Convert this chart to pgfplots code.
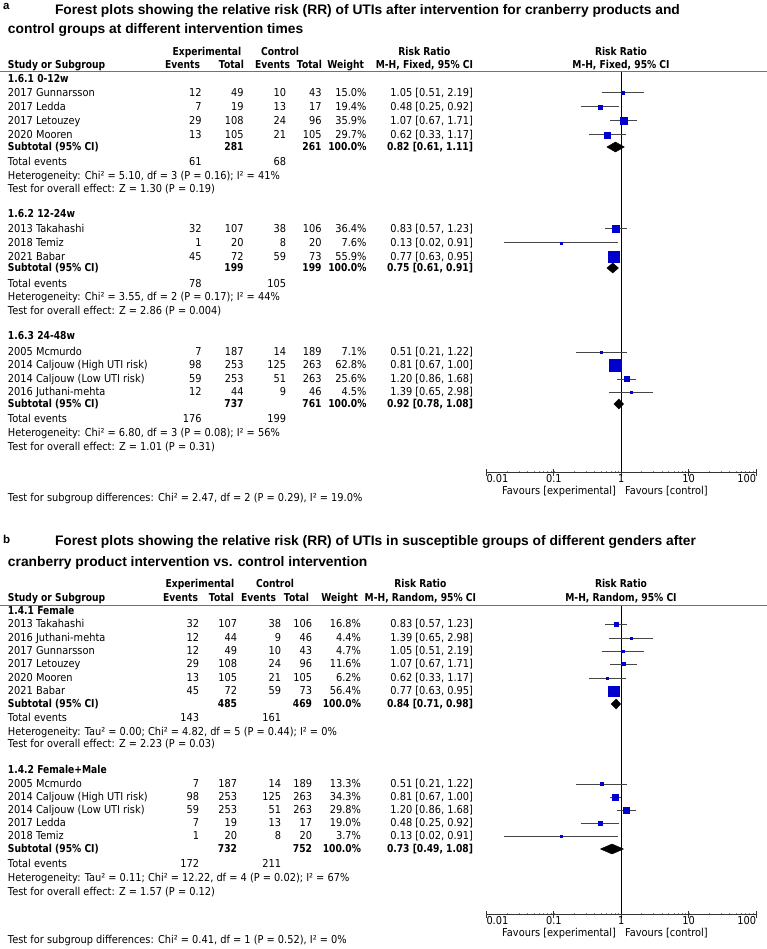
\documentclass[border=0pt]{standalone}
\usepackage{fontspec}
\setmainfont{DejaVu Sans}[FakeStretch=0.9, BoldFeatures={FakeStretch=0.84}]
\newfontfamily\titlefont{Liberation Sans}
\usepackage{pgfplots}
\pgfplotsset{compat=1.18}
\usepackage{pgfplotstable}
\definecolor{rrblue}{RGB}{0,0,205}
\definecolor{wgray}{RGB}{70,70,70}
\newcommand\tfont{\titlefont\bfseries\fontsize{13.8}{16}\selectfont}
\newcommand\lfont{\titlefont\bfseries\fontsize{11.5}{13}\selectfont}

% study rows: y = pixel row, rr = risk ratio, h = half side of square
\pgfplotstableread{
y   rr   h
93  1.05 1.6
107 0.48 2.0
121 1.07 3.5
135 0.62 2.9
229 0.83 3.5
243 0.13 1.1
257 0.77 5.3
352 0.51 1.1
365 0.81 5.8
379 1.20 2.6
392 1.39 1.1
}\studiesA
% 95% CI whiskers, one segment per study
\pgfplotstableread{
x y
0.51 93
2.19 93
nan nan
0.25 107
0.92 107
nan nan
0.67 121
1.71 121
nan nan
0.33 135
1.17 135
nan nan
0.57 229
1.23 229
nan nan
0.018 243
0.91 243
nan nan
0.63 257
0.95 257
nan nan
0.21 352
1.22 352
nan nan
0.67 365
1.00 365
nan nan
0.86 379
1.68 379
nan nan
0.65 392
2.98 392
}\ciA

\pgfplotstableread{
y   rr   h
624 0.83 1.9
638 1.39 1.1
651 1.05 1.1
664 1.07 1.5
678 0.62 1.1
691 0.77 5.2
784 0.51 1.5
797 0.81 3.2
810 1.20 2.9
823 0.48 2.0
836 0.13 0.9
}\studiesB
\pgfplotstableread{
x y
0.57 624
1.23 624
nan nan
0.65 638
2.98 638
nan nan
0.51 651
2.19 651
nan nan
0.67 664
1.71 664
nan nan
0.33 678
1.17 678
nan nan
0.63 691
0.95 691
nan nan
0.21 784
1.22 784
nan nan
0.67 797
1.00 797
nan nan
0.86 810
1.68 810
nan nan
0.25 823
0.92 823
nan nan
0.018 836
0.91 836
}\ciB

\newcommand\TL[3]{\node[anchor=base west] at (#1,#2) {#3};}
\newcommand\TR[3]{\node[anchor=base east] at (#1,#2) {#3};}
\newcommand\TC[3]{\node[anchor=base] at (#1,#2) {#3};}
% y, name, exp events, exp total, ctrl events, ctrl total, weight, CI
\newcommand\studyrow[8]{\TL{8}{#1}{#2}\TR{\cEE}{#1}{#3}\TR{\cET}{#1}{#4}%
  \TR{\cCE}{#1}{#5}\TR{\cCT}{#1}{#6}\TR{\cW}{#1}{#7}\TR{\cCI}{#1}{#8}}

\begin{document}
\fontsize{10.9}{12.5}\selectfont
\begin{tikzpicture}
\path[use as bounding box] (0pt,0pt) rectangle (767pt,-949pt);

% ---------- panel a ----------
\begin{axis}[at={(486.5pt,-472pt)}, anchor=south west,
  scale only axis, width=269.5pt, height=400pt,
  xmode=log, xmin=0.01, xmax=100, ymin=-472, ymax=-72,
  axis x line*=bottom, axis y line=none,
  xtick={0.01,0.1,1,10,100},
  xticklabels={\makebox[0pt][l]{0.01},0.1,1,10,\makebox[0pt][r]{100}},
  minor xtick={}, ytick=\empty,
  tick align=center, major tick length=7pt,
  major tick style={line width=0.8pt, black!80},
  x axis line style={line width=0.8pt, black!80},
  xticklabel style={inner sep=0pt, anchor=north, yshift=1pt},
  clip=false, unbounded coords=jump]
\addplot[black, line width=0.8pt] coordinates {(1,-72) (1,-472)};
\addplot[wgray, line width=1pt] table[x=x, y expr=-\thisrow{y}] {\ciA};
\addplot[scatter, only marks, mark=square*,
  scatter/use mapped color={draw=rrblue, fill=rrblue},
  visualization depends on={\thisrow{h} \as \hs},
  scatter/@pre marker code/.append style={/tikz/mark size=\hs}]
  table[x=rr, y expr=-\thisrow{y}] {\studiesA};
\addplot[fill=black, draw=black] coordinates {(0.61,-147) (0.82,-142) (1.11,-147) (0.82,-152) (0.61,-147)};
\addplot[fill=black, draw=black] coordinates {(0.61,-268) (0.75,-263) (0.91,-268) (0.75,-273) (0.61,-268)};
\addplot[fill=black, draw=black] coordinates {(0.78,-404) (0.92,-399) (1.08,-404) (0.92,-409) (0.78,-404)};
\end{axis}

% ---------- panel b ----------
\begin{axis}[at={(486.5pt,-914pt)}, anchor=south west,
  scale only axis, width=269.5pt, height=309pt,
  xmode=log, xmin=0.01, xmax=100, ymin=-914, ymax=-605,
  axis x line*=bottom, axis y line=none,
  xtick={0.01,0.1,1,10,100},
  xticklabels={\makebox[0pt][l]{0.01},0.1,1,10,\makebox[0pt][r]{100}},
  minor xtick={}, ytick=\empty,
  tick align=center, major tick length=7pt,
  major tick style={line width=0.8pt, black!80},
  x axis line style={line width=0.8pt, black!80},
  xticklabel style={inner sep=0pt, anchor=north, yshift=1pt},
  clip=false, unbounded coords=jump]
\addplot[black, line width=0.8pt] coordinates {(1,-605) (1,-914)};
\addplot[wgray, line width=1pt] table[x=x, y expr=-\thisrow{y}] {\ciB};
\addplot[scatter, only marks, mark=square*,
  scatter/use mapped color={draw=rrblue, fill=rrblue},
  visualization depends on={\thisrow{h} \as \hs},
  scatter/@pre marker code/.append style={/tikz/mark size=\hs}]
  table[x=rr, y expr=-\thisrow{y}] {\studiesB};
\addplot[fill=black, draw=black] coordinates {(0.71,-704) (0.84,-699) (0.98,-704) (0.84,-709) (0.71,-704)};
\addplot[fill=black, draw=black] coordinates {(0.49,-849) (0.73,-844) (1.08,-849) (0.73,-854) (0.49,-849)};
\end{axis}

\begin{scope}[x=1pt, y=-1pt, every node/.style={inner sep=0pt, outer sep=0pt}]
% ---------- panel a text ----------
\node[anchor=base west, font=\lfont] at (3,10) {a};
\node[anchor=base west, font=\tfont] at (55,15) {Forest plots showing the relative risk (RR) of UTIs after intervention for cranberry products and};
\node[anchor=base west, font=\tfont] at (8,33.5) {control groups at different intervention times};
\def\cEE{201.5}\def\cET{243.5}\def\cCE{286}\def\cCT{321.5}\def\cW{366.5}\def\cCI{473}
\TC{207}{55.5}{\textbf{Experimental}}
\TC{280}{55.5}{\textbf{Control}}
\TL{8}{68.5}{\textbf{Study or Subgroup}}
\TR{200}{68.5}{\textbf{Events}}\TR{244}{68.5}{\textbf{Total}}
\TR{290}{68.5}{\textbf{Events}}\TR{322}{68.5}{\textbf{Total}}
\TR{364}{68.5}{\textbf{Weight}}
\node (mha) [anchor=base east] at (473,68.5) {\textbf{M-H, Fixed, 95\% CI}};
\node[anchor=base] at ([yshift=13pt]mha.base) {\textbf{Risk Ratio}};
\TC{621}{55.5}{\textbf{Risk Ratio}}
\TC{621}{68.5}{\textbf{M-H, Fixed, 95\% CI}}
\draw[line width=1pt, black!55] (0,72) -- (767,72);

\TL{8}{82.5}{\textbf{1.6.1 0-12w}}
\studyrow{96.5}{2017 Gunnarsson}{12}{49}{10}{43}{15.0\%}{1.05 [0.51, 2.19]}
\studyrow{110.5}{2017 Ledda}{7}{19}{13}{17}{19.4\%}{0.48 [0.25, 0.92]}
\studyrow{124.5}{2017 Letouzey}{29}{108}{24}{96}{35.9\%}{1.07 [0.67, 1.71]}
\studyrow{138.5}{2020 Mooren}{13}{105}{21}{105}{29.7\%}{0.62 [0.33, 1.17]}
\studyrow{150.5}{\textbf{Subtotal (95\% CI)}}{}{\textbf{281}}{}{\textbf{261}}{\textbf{100.0\%}}{\textbf{0.82 [0.61, 1.11]}}
\TL{8}{165.5}{Total events}\TR{\cEE}{165.5}{61}\TR{\cCE}{165.5}{68}
\TL{8}{179.5}{Heterogeneity: Chi² = 5.10, df = 3 (P = 0.16); I² = 41\%}
\TL{8}{192.5}{Test for overall effect: Z = 1.30 (P = 0.19)}

\TL{8}{217.5}{\textbf{1.6.2 12-24w}}
\studyrow{232.5}{2013 Takahashi}{32}{107}{38}{106}{36.4\%}{0.83 [0.57, 1.23]}
\studyrow{246.5}{2018 Temiz}{1}{20}{8}{20}{7.6\%}{0.13 [0.02, 0.91]}
\studyrow{260.5}{2021 Babar}{45}{72}{59}{73}{55.9\%}{0.77 [0.63, 0.95]}
\studyrow{271.5}{\textbf{Subtotal (95\% CI)}}{}{\textbf{199}}{}{\textbf{199}}{\textbf{100.0\%}}{\textbf{0.75 [0.61, 0.91]}}
\TL{8}{287.5}{Total events}\TR{\cEE}{287.5}{78}\TR{\cCE}{287.5}{105}
\TL{8}{301}{Heterogeneity: Chi² = 3.55, df = 2 (P = 0.17); I² = 44\%}
\TL{8}{314.5}{Test for overall effect: Z = 2.86 (P = 0.004)}

\TL{8}{339}{\textbf{1.6.3 24-48w}}
\studyrow{355}{2005 Mcmurdo}{7}{187}{14}{189}{7.1\%}{0.51 [0.21, 1.22]}
\studyrow{368.5}{2014 Caljouw (High UTI risk)}{98}{253}{125}{263}{62.8\%}{0.81 [0.67, 1.00]}
\studyrow{382.5}{2014 Caljouw (Low UTI risk)}{59}{253}{51}{263}{25.6\%}{1.20 [0.86, 1.68]}
\studyrow{395.5}{2016 Juthani-mehta}{12}{44}{9}{46}{4.5\%}{1.39 [0.65, 2.98]}
\studyrow{407.5}{\textbf{Subtotal (95\% CI)}}{}{\textbf{737}}{}{\textbf{761}}{\textbf{100.0\%}}{\textbf{0.92 [0.78, 1.08]}}
\TL{8}{422.5}{Total events}\TR{\cEE}{422.5}{176}\TR{\cCE}{422.5}{199}
\TL{8}{436.5}{Heterogeneity: Chi² = 6.80, df = 3 (P = 0.08); I² = 56\%}
\TL{8}{450}{Test for overall effect: Z = 1.01 (P = 0.31)}

\TR{616}{494}{Favours [experimental]}
\TL{625}{494}{Favours [control]}
\TL{8}{501.5}{Test for subgroup differences: Chi² = 2.47, df = 2 (P = 0.29), I² = 19.0\%}

% ---------- panel b text ----------
\node[anchor=base west, font=\lfont] at (3,543) {b};
\node[anchor=base west, font=\tfont] at (55,545) {Forest plots showing the relative risk (RR) of UTIs in susceptible groups of different genders after};
\node[anchor=base west, font=\tfont] at (8,566) {cranberry product intervention vs. control intervention};
\def\cEE{199}\def\cET{237}\def\cCE{281}\def\cCT{312}\def\cW{361}\def\cCI{473}
\TC{200}{587.5}{\textbf{Experimental}}
\TC{275}{587.5}{\textbf{Control}}
\TL{8}{601}{\textbf{Study or Subgroup}}
\TR{198}{601}{\textbf{Events}}\TR{234}{601}{\textbf{Total}}
\TR{276}{601}{\textbf{Events}}\TR{309}{601}{\textbf{Total}}
\TR{358}{601}{\textbf{Weight}}
\node (mhb) [anchor=base east] at (476,601) {\textbf{M-H, Random, 95\% CI}};
\node[anchor=base] at ([yshift=13.5pt]mhb.base) {\textbf{Risk Ratio}};
\TC{621}{587.5}{\textbf{Risk Ratio}}
\TC{621}{601}{\textbf{M-H, Random, 95\% CI}}
\draw[line width=1pt, black!55] (0,605) -- (767,605);

\TL{8}{614.5}{\textbf{1.4.1 Female}}
\studyrow{627.5}{2013 Takahashi}{32}{107}{38}{106}{16.8\%}{0.83 [0.57, 1.23]}
\studyrow{641.5}{2016 Juthani-mehta}{12}{44}{9}{46}{4.4\%}{1.39 [0.65, 2.98]}
\studyrow{654.5}{2017 Gunnarsson}{12}{49}{10}{43}{4.7\%}{1.05 [0.51, 2.19]}
\studyrow{667.5}{2017 Letouzey}{29}{108}{24}{96}{11.6\%}{1.07 [0.67, 1.71]}
\studyrow{681.5}{2020 Mooren}{13}{105}{21}{105}{6.2\%}{0.62 [0.33, 1.17]}
\studyrow{694.5}{2021 Babar}{45}{72}{59}{73}{56.4\%}{0.77 [0.63, 0.95]}
\studyrow{707.5}{\textbf{Subtotal (95\% CI)}}{}{\textbf{485}}{}{\textbf{469}}{\textbf{100.0\%}}{\textbf{0.84 [0.71, 0.98]}}
\TL{8}{721.5}{Total events}\TR{\cEE}{721.5}{143}\TR{\cCE}{721.5}{161}
\TL{8}{735.5}{Heterogeneity: Tau² = 0.00; Chi² = 4.82, df = 5 (P = 0.44); I² = 0\%}
\TL{8}{747.5}{Test for overall effect: Z = 2.23 (P = 0.03)}

\TL{8}{773.5}{\textbf{1.4.2 Female+Male}}
\studyrow{787.5}{2005 Mcmurdo}{7}{187}{14}{189}{13.3\%}{0.51 [0.21, 1.22]}
\studyrow{800.5}{2014 Caljouw (High UTI risk)}{98}{253}{125}{263}{34.3\%}{0.81 [0.67, 1.00]}
\studyrow{813.5}{2014 Caljouw (Low UTI risk)}{59}{253}{51}{263}{29.8\%}{1.20 [0.86, 1.68]}
\studyrow{826.5}{2017 Ledda}{7}{19}{13}{17}{19.0\%}{0.48 [0.25, 0.92]}
\studyrow{839.5}{2018 Temiz}{1}{20}{8}{20}{3.7\%}{0.13 [0.02, 0.91]}
\studyrow{852.5}{\textbf{Subtotal (95\% CI)}}{}{\textbf{732}}{}{\textbf{752}}{\textbf{100.0\%}}{\textbf{0.73 [0.49, 1.08]}}
\TL{8}{867.5}{Total events}\TR{\cEE}{867.5}{172}\TR{\cCE}{867.5}{211}
\TL{8}{881.5}{Heterogeneity: Tau² = 0.11; Chi² = 12.22, df = 4 (P = 0.02); I² = 67\%}
\TL{8}{895.5}{Test for overall effect: Z = 1.57 (P = 0.12)}

\TR{616}{936}{Favours [experimental]}
\TL{625}{936}{Favours [control]}
\TL{8}{943}{Test for subgroup differences: Chi² = 0.41, df = 1 (P = 0.52), I² = 0\%}
\end{scope}
\end{tikzpicture}
\end{document}
